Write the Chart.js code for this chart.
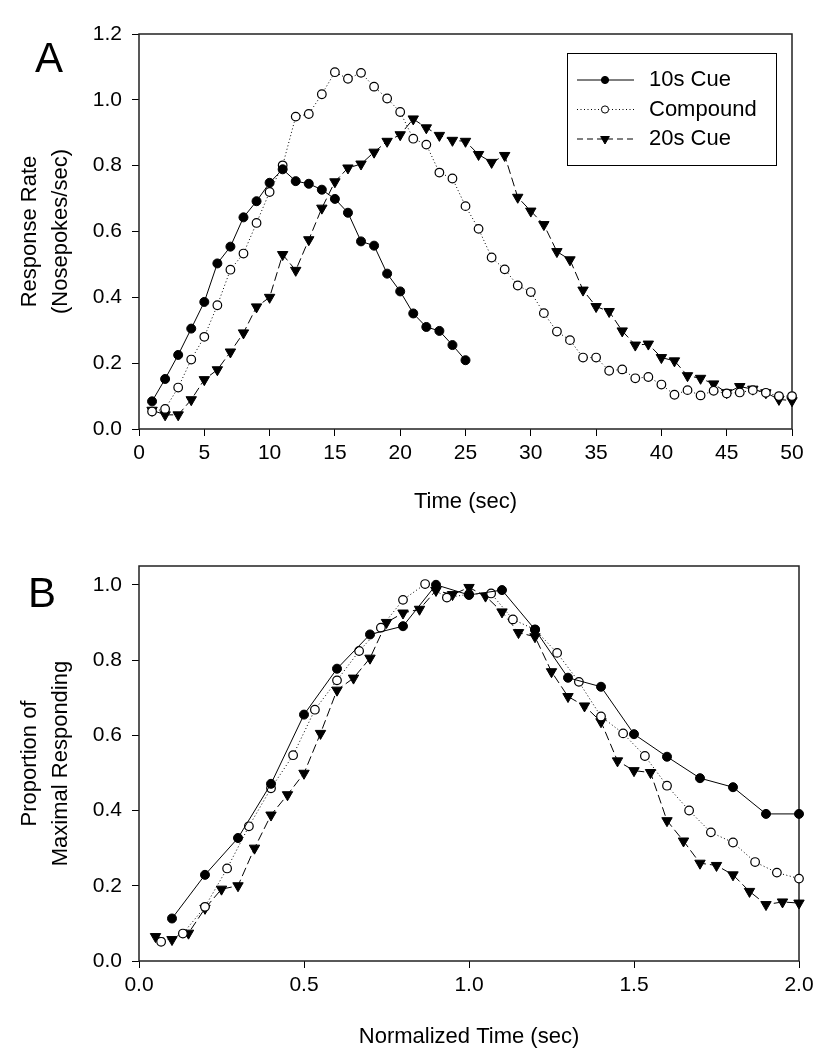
<!DOCTYPE html>
<html>
<head>
<meta charset="utf-8">
<script src="https://cdn.jsdelivr.net/npm/chart.js@4.4.1/dist/chart.umd.min.js"></script>
<style>
  body { margin: 0; background: #fff; }
  canvas { position: absolute; left: 0; }
  #chartA { top: 0; }
  #chartB { top: 525px; }
</style>
</head>
<body>
<canvas id="chartA" width="833" height="525"></canvas>
<canvas id="chartB" width="833" height="525"></canvas>
<script>
// --- Panel A: response rate per second of the cue
const timeA = [1,2,3,4,5,6,7,8,9,10,11,12,13,14,15,16,17,18,19,20,21,22,23,24,25,
               26,27,28,29,30,31,32,33,34,35,36,37,38,39,40,41,42,43,44,45,46,47,48,49,50];
const cue10A = [0.084,0.152,0.225,0.305,0.386,0.503,0.554,0.643,0.692,0.748,
                0.789,0.753,0.745,0.727,0.699,0.657,0.570,0.557,0.472,0.418,
                0.351,0.310,0.298,0.255,0.209];
const compoundA = [0.053,0.061,0.126,0.211,0.280,0.376,0.484,0.533,0.626,0.720,
                   0.801,0.949,0.957,1.017,1.084,1.064,1.082,1.040,1.004,0.963,
                   0.882,0.864,0.779,0.761,0.677,0.608,0.521,0.485,0.436,0.416,
                   0.352,0.296,0.270,0.217,0.217,0.177,0.181,0.154,0.158,0.135,
                   0.104,0.118,0.102,0.116,0.108,0.111,0.118,0.110,0.100,0.100];
const cue20A = [0.057,0.043,0.043,0.089,0.150,0.180,0.234,0.292,0.371,0.400,
                0.530,0.482,0.575,0.671,0.751,0.793,0.805,0.841,0.874,0.894,
                0.942,0.915,0.892,0.877,0.874,0.834,0.810,0.831,0.704,0.662,
                0.621,0.539,0.514,0.422,0.372,0.357,0.298,0.255,0.258,0.217,
                0.207,0.162,0.154,0.137,0.110,0.129,0.121,0.110,0.090,0.086];

// --- Panel B: proportion of max vs normalized time
const normTime10 = [0.1,0.2,0.3,0.4,0.5,0.6,0.7,0.8,0.9,1.0,1.1,1.2,1.3,1.4,1.5,1.6,1.7,1.8,1.9,2.0];
const cue10B = [0.113,0.229,0.327,0.471,0.655,0.777,0.868,0.890,1.000,0.973,
                0.986,0.881,0.753,0.729,0.603,0.543,0.486,0.462,0.391,0.391];
const normTimeComp = [0.067,0.133,0.2,0.267,0.333,0.4,0.467,0.533,0.6,0.667,
                      0.733,0.8,0.867,0.933,1.0,1.067,1.133,1.2,1.267,1.333,
                      1.4,1.467,1.533,1.6,1.667,1.733,1.8,1.867,1.933,2.0];
const compoundB = [0.051,0.073,0.144,0.246,0.358,0.459,0.547,0.668,0.746,0.824,
                   0.886,0.960,1.002,0.966,0.975,0.977,0.908,0.881,0.819,0.742,
                   0.650,0.605,0.545,0.466,0.400,0.342,0.315,0.263,0.235,0.219];
const normTime20 = [0.05,0.1,0.15,0.2,0.25,0.3,0.35,0.4,0.45,0.5,
                    0.55,0.6,0.65,0.7,0.75,0.8,0.85,0.9,0.95,1.0,
                    1.05,1.1,1.15,1.2,1.25,1.3,1.35,1.4,1.45,1.5,
                    1.55,1.6,1.65,1.7,1.75,1.8,1.85,1.9,1.95,2.0];
const cue20B = [0.065,0.057,0.074,0.140,0.191,0.200,0.300,0.388,0.442,0.499,
                0.605,0.720,0.752,0.805,0.900,0.925,0.935,0.985,0.974,0.993,
                0.970,0.928,0.873,0.862,0.769,0.703,0.678,0.636,0.532,0.506,
                0.501,0.373,0.319,0.260,0.254,0.229,0.185,0.150,0.157,0.154];

const seriesNames = ['10s Cue', 'Compound', '20s Cue'];

const FONT = '"Liberation Sans", Arial, sans-serif';

function pair(xs, ys) {
    return ys.map((y, i) => ({ x: xs[i], y: y }));
}

// one style per series: solid/filled circle, dotted/open circle, dashed/triangle
function seriesStyle(i) {
    const base = {
        label: seriesNames[i],
        borderColor: '#000',
        borderWidth: 1,
        pointBorderColor: '#000',
        pointBorderWidth: 1,
        tension: 0,
        fill: false,
        clip: false
    };
    if (i === 0) return Object.assign(base, { pointStyle: 'circle', pointRadius: 4.5, pointBackgroundColor: '#000' });
    if (i === 1) return Object.assign(base, { pointStyle: 'circle', pointRadius: 4.3, pointBackgroundColor: '#fff', borderDash: [1, 2.5], pointBorderWidth: 1.2 });
    return Object.assign(base, { pointStyle: 'triangle', pointRotation: 180, pointRadius: 6, pointBackgroundColor: '#000', borderDash: [9, 4] });
}

// frame around plot area
const frame = {
    id: 'frame',
    beforeDatasetsDraw(chart) {
        const a = chart.chartArea, ctx = chart.ctx;
        ctx.save();
        ctx.strokeStyle = '#222';
        ctx.lineWidth = 1.5;
        ctx.strokeRect(a.left, a.top, a.right - a.left, a.bottom - a.top);
        ctx.restore();
    }
};

// big panel letter
const panelLetter = {
    id: 'panelLetter',
    afterDraw(chart, args, opts) {
        const ctx = chart.ctx;
        ctx.save();
        ctx.fillStyle = '#000';
        ctx.font = '42px ' + FONT;
        ctx.textAlign = 'center';
        ctx.textBaseline = 'middle';
        ctx.fillText(opts.text, opts.x, opts.y);
        ctx.restore();
    }
};

// boxed legend with line + marker samples
const legendBox = {
    id: 'legendBox',
    afterDraw(chart, args, opts) {
        if (!opts.show) return;
        const ctx = chart.ctx;
        ctx.save();
        ctx.strokeStyle = '#000';
        ctx.lineWidth = 1;
        ctx.strokeRect(567.5, 53.5, 209, 112);
        chart.data.datasets.forEach((ds, i) => {
            const y = 80 + i * 29.5;
            ctx.strokeStyle = '#000';
            ctx.lineWidth = 1;
            ctx.setLineDash(i === 2 ? [6, 4] : (ds.borderDash || []));
            ctx.beginPath();
            ctx.moveTo(577, y);
            ctx.lineTo(634, y);
            ctx.stroke();
            ctx.setLineDash([]);
            ctx.fillStyle = ds.pointBackgroundColor;
            Chart.helpers.drawPoint(ctx, {
                pointStyle: ds.pointStyle,
                radius: ds.pointStyle === 'triangle' ? 5 : 3.6,
                rotation: ds.pointRotation || 0,
                borderWidth: 1
            }, 605, y);
            ctx.fillStyle = '#000';
            ctx.font = '22px ' + FONT;
            ctx.textAlign = 'left';
            ctx.textBaseline = 'middle';
            ctx.fillText(ds.label, 649, y);
        });
        ctx.restore();
    }
};

function makeChart(id, cfg) {
    return new Chart(document.getElementById(id), {
        type: 'line',
        data: { datasets: cfg.datasets },
        options: {
            responsive: false,
            animation: false,
            layout: { padding: { left: 0, right: cfg.padRight, top: cfg.padTop, bottom: 0 } },
            plugins: {
                legend: { display: false },
                tooltip: { enabled: false },
                panelLetter: cfg.letter,
                legendBox: { show: cfg.legend }
            },
            scales: {
                x: {
                    type: 'linear',
                    min: cfg.xMin, max: cfg.xMax,
                    afterFit: s => { s.height = cfg.xHeight; },
                    border: { display: false },
                    grid: { display: true, drawOnChartArea: false, drawTicks: true, tickLength: 7, color: '#000', lineWidth: 1 },
                    ticks: {
                        stepSize: cfg.xStep,
                        padding: 5,
                        color: '#000',
                        font: { family: FONT, size: 21 },
                        maxRotation: 0,
                        callback: cfg.xFormat
                    },
                    title: {
                        display: true,
                        text: cfg.xTitle,
                        color: '#000',
                        font: { family: FONT, size: 22 },
                        padding: { top: 0, bottom: cfg.xTitlePad }
                    }
                },
                y: {
                    min: 0, max: cfg.yMax,
                    afterFit: s => { s.width = 139; },
                    border: { display: false },
                    grid: { display: true, drawOnChartArea: false, drawTicks: true, tickLength: 7, color: '#000', lineWidth: 1 },
                    ticks: {
                        stepSize: 0.2,
                        includeBounds: false,
                        padding: 10,
                        color: '#000',
                        font: { family: FONT, size: 21 },
                        callback: v => v.toFixed(1)
                    },
                    title: {
                        display: true,
                        text: cfg.yTitle,
                        color: '#000',
                        font: { family: FONT, size: 22, lineHeight: 1.4 },
                        padding: { top: 15, bottom: 0 }
                    }
                }
            }
        },
        plugins: [frame, panelLetter, legendBox]
    });
}

makeChart('chartA', {
    datasets: [
        Object.assign(seriesStyle(0), { data: pair(timeA, cue10A) }),
        Object.assign(seriesStyle(1), { data: pair(timeA, compoundA) }),
        Object.assign(seriesStyle(2), { data: pair(timeA, cue20A) })
    ],
    padTop: 34, padRight: 41, xHeight: 96,
    xMin: 0, xMax: 50, xStep: 5, xFormat: v => v,
    yMax: 1.2,
    xTitle: 'Time (sec)', xTitlePad: 10,
    yTitle: ['Response Rate', '(Nosepokes/sec)'],
    letter: { text: 'A', x: 49, y: 60 },
    legend: true
});

makeChart('chartB', {
    datasets: [
        Object.assign(seriesStyle(0), { data: pair(normTime10, cue10B) }),
        Object.assign(seriesStyle(1), { data: pair(normTimeComp, compoundB) }),
        Object.assign(seriesStyle(2), { data: pair(normTime20, cue20B) })
    ],
    padTop: 41, padRight: 34, xHeight: 89,
    xMin: 0, xMax: 2, xStep: 0.5, xFormat: v => v.toFixed(1),
    yMax: 1.05,
    xTitle: 'Normalized Time (sec)', xTitlePad: 0,
    yTitle: ['Proportion of', 'Maximal Responding'],
    letter: { text: 'B', x: 42, y: 70 },
    legend: false
});
</script>
</body>
</html>
